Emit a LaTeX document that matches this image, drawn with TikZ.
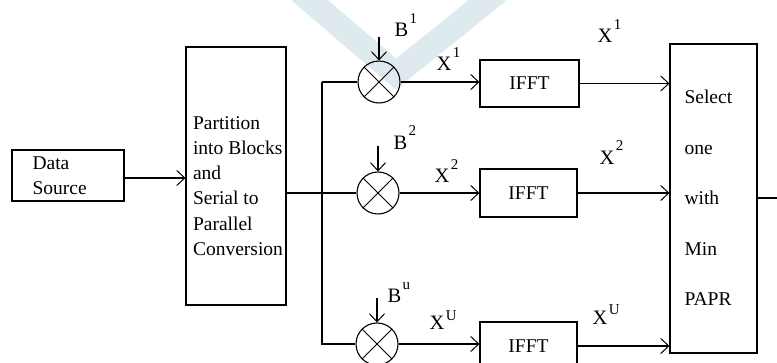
\documentclass[tikz,border=0pt]{standalone}
\usepackage{fontspec}
\setmainfont{Liberation Serif}
\usetikzlibrary{arrows.meta}
\definecolor{wmark}{HTML}{DEEAEE}
\newcommand\symsup[3]{#1\kern1.5pt\raisebox{#3}{\fontsize{15}{15}\selectfont #2}}
\begin{document}
\begin{tikzpicture}[x=1pt,y=-1pt,
  line width=1.1pt,
  every node/.style={font=\fontsize{19.5}{25}\selectfont},
  blockbox/.style={draw, rectangle, inner sep=0pt},
  mixer/.style={draw, circle, minimum size=42pt, inner sep=0pt},
  lbl/.style={anchor=base west, inner sep=0pt, font=\fontsize{20.5}{22}\selectfont},
  arr/.style={-{Straight Barb[length=8pt,width=15pt,line width=1pt]}}]
\useasboundingbox (0,0) rectangle (777,363);
\fill[white] (0,0) rectangle (777,363);
% light V mark in the background
\draw[wmark, line width=24pt, line join=miter] (300,-8) -- (396,74) -- (498,-8);

% blocks
\node[blockbox, minimum width=112pt, minimum height=51pt] (src) at (68,175.5) {};
\node[anchor=west, inner sep=0pt, align=left, font=\fontsize{19.5}{25}\selectfont] (srct) at (32,176) {Data\\Source};
\node[blockbox, minimum width=100pt, minimum height=258pt] (part) at (236,176) {};
\node[anchor=west, inner sep=0pt, align=left, font=\fontsize{19.5}{25.2}\selectfont] (partt) at (192.5,186)
  {Partition\\into Blocks\\and\\Serial to\\Parallel\\Conversion};

\node[mixer] (m1) at (379,82) {};
\node[mixer] (m2) at (378,193) {};
\node[mixer] (m3) at (377,344) {};
\foreach \m in {m1,m2,m3}{
  \draw[line width=0.9pt] (\m.north west) -- (\m.south east);
  \draw[line width=0.9pt] (\m.north east) -- (\m.south west);
}

\node[blockbox, minimum width=99pt, minimum height=47pt] (f1) at (529.5,83.5) {IFFT};
\node[blockbox, minimum width=97pt, minimum height=48pt] (f2) at (528.5,193) {IFFT};
\node[blockbox, minimum width=97pt, minimum height=48pt] (f3) at (528.5,346) {IFFT};

\node[blockbox, minimum width=87pt, minimum height=309pt] (sel) at (713.5,198.5) {};
\node[anchor=west, inner sep=0pt, align=left, font=\fontsize{19.5}{50.5}\selectfont] (selt) at (684,198)
  {Select\\one\\with\\Min\\PAPR};

% feed points
\coordinate (j) at (322,193);
\coordinate (b1) at (379,37);
\coordinate (b2) at (378,146);
\coordinate (b3) at (377,298);
\coordinate (out) at (777,198);

% connectors
\draw[arr] (src.east |- 0,178) -- (part.west |- 0,178);
\draw (part.east |- j) -- (m2.west);
\draw (j |- m1.west) -- (m1.west);
\draw (j |- m1.west) -- (j |- m3.west) -- (m3.west);
\draw[arr] (b1) -- (m1.north);
\draw[arr] (b2) -- (m2.north);
\draw[arr] (b3) -- (m3.north);
\draw[arr] (m1.east) -- (f1.west |- m1.east);
\draw[arr] (m2.east) -- (f2.west |- m2.east);
\draw[arr] (m3.east) -- (f3.west |- m3.east);
\draw[arr] (f1.east) -- (sel.west |- f1.east);
\draw[arr] (f2.east) -- (sel.west |- f2.east);
\draw[arr] (f3.east) -- (sel.west |- f3.east);
\draw (sel.east |- out) -- (out);

% labels
\node[lbl] (lb1) at (394,37) {\symsup{B}{1}{13pt}};
\node[lbl] (lb2) at (393,150) {\symsup{B}{2}{14pt}};
\node[lbl] (lb3) at (387,303) {\symsup{B}{u}{13pt}};
\node[lbl] (lx1) at (436,71) {\symsup{X}{1}{13pt}};
\node[lbl] (lx2) at (434,183) {\symsup{X}{2}{13pt}};
\node[lbl] (lx3) at (429,330) {\symsup{X}{U}{9pt}};
\node[lbl] (rx1) at (597,43) {\symsup{X}{1}{13pt}};
\node[lbl] (rx2) at (599,165) {\symsup{X}{2}{14pt}};
\node[lbl] (rx3) at (592,325) {\symsup{X}{U}{10pt}};
\end{tikzpicture}
\end{document}
